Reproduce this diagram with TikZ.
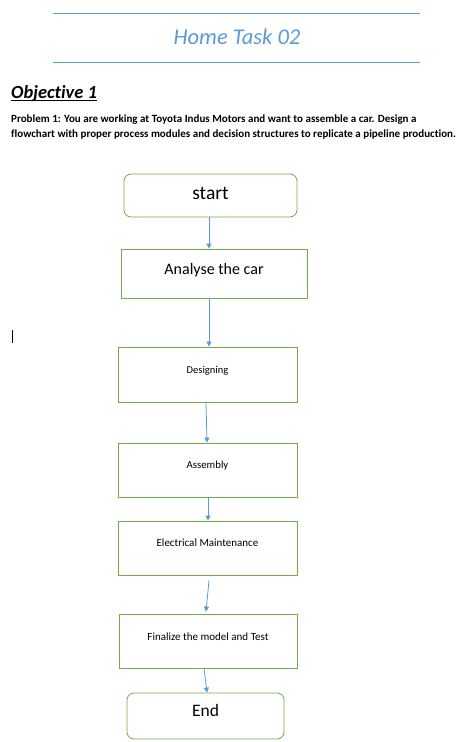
\documentclass[tikz,border=0pt]{standalone}
\usepackage{fontspec}
\setmainfont{Carlito}[Ligatures=NoCommon]
\usetikzlibrary{arrows.meta}
\definecolor{titleblue}{HTML}{5B9BD5}
\definecolor{boxgreen}{HTML}{70AD47}
\definecolor{arrowblue}{HTML}{5B9BD5}
\tikzset{
  procbox/.style={draw=boxgreen, line width=0.8pt, minimum width=#1, inner sep=0pt},
  termbox/.style={draw=boxgreen, line width=0.8pt, rounded corners=7pt, minimum width=#1, inner sep=0pt},
  flow/.style={draw=arrowblue, line width=0.8pt, -{Triangle[width=5pt,length=5pt]}},
  rulerline/.style={draw=titleblue, line width=0.8pt},
  txt/.style={inner sep=0pt, text=black},
}
\begin{document}
\begin{tikzpicture}[x=1pt,y=-1pt]
\useasboundingbox[fill=white] (0,0) rectangle (460,742);
% header
\coordinate (tl1) at (53,13); \coordinate (tr1) at (420,13);
\coordinate (tl2) at (53,62); \coordinate (tr2) at (420,62);
\draw[rulerline] (tl1) -- (tr1);
\draw[rulerline] (tl2) -- (tr2);
\node[txt, anchor=base, text=titleblue, font=\fontsize{22.5}{26}\selectfont\itshape] (title) at (237,44) {Home Task 02};
\node[txt, anchor=base west, font=\fontsize{18.5}{21}\selectfont\bfseries\itshape] (obj) at (11,98) {Objective 1};
\draw[line width=1pt] ([yshift=-2pt]obj.base west) -- ([yshift=-2pt]obj.base east);
\node[txt, anchor=base west, font=\fontsize{11}{13}\selectfont\bfseries] (p1) at (11,122) {Problem 1: You are working at Toyota Indus Motors and want to assemble a car. Design a};
\node[txt, anchor=base west, font=\fontsize{11}{13}\selectfont\bfseries] (p2) at (11,137) {flowchart with proper process modules and decision structures to replicate a pipeline production.};
% cursor
\coordinate (c1) at (12,330); \coordinate (c2) at (12,343);
\draw[line width=0.7pt] (c1) -- (c2);
% boxes
\node[termbox=173pt, minimum height=43pt] (st) at (210.5,195.5) {};
\node[txt, font=\fontsize{19.5}{22}\selectfont] (sttxt) at ([yshift=2pt]st.center) {start};
\node[procbox=186pt, minimum height=49pt] (an) at (214,273.5) {};
\node[txt, font=\fontsize{16}{19}\selectfont] (antxt) at ([yshift=3pt]an.center) {Analyse the car};
\node[procbox=179pt, minimum height=55pt] (des) at (207.5,374.5) {};
\node[txt, font=\fontsize{10.5}{12}\selectfont] (destxt) at ([yshift=4pt]des.center) {Designing};
\node[procbox=179pt, minimum height=54pt] (asm) at (207.5,470) {};
\node[txt, font=\fontsize{10.8}{12}\selectfont] (asmtxt) at ([yshift=4pt]asm.center) {Assembly};
\node[procbox=179pt, minimum height=54pt] (el) at (207.5,548) {};
\node[txt, font=\fontsize{11}{12}\selectfont] (eltxt) at ([yshift=5pt]el.center) {Electrical Maintenance};
\node[procbox=178pt, minimum height=54pt] (fin) at (208,641) {};
\node[txt, font=\fontsize{11}{12}\selectfont] (fintxt) at ([yshift=4pt]fin.center) {Finalize the model and Test};
\node[termbox=157pt, minimum height=46pt] (en) at (205.5,716) {};
\node[txt, font=\fontsize{17.5}{20}\selectfont] (entxt) at ([yshift=6pt]en.center) {End};
% arrows
\draw[flow] ([xshift=-1.5pt]st.south) -- ([xshift=-5pt]an.north);
\draw[flow] ([xshift=-5pt]an.south) -- ([xshift=1.5pt]des.north);
\draw[flow] ([xshift=-1.5pt]des.south) -- ([xshift=-0.5pt]asm.north);
\draw[flow] ([xshift=0.5pt]asm.south) -- ([xshift=0.5pt]el.north);
\draw[flow] ([xshift=1.5pt,yshift=-5pt]el.south) -- ([xshift=-2pt,yshift=2pt]fin.north);
\draw[flow] ([xshift=-4pt]fin.south) -- ([xshift=1.5pt]en.north);
\end{tikzpicture}
\end{document}
